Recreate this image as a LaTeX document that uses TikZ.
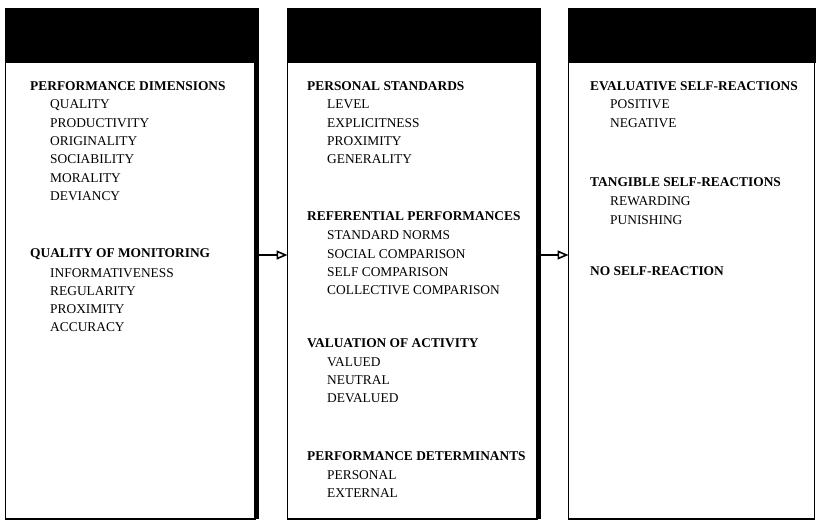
\documentclass[tikz,border=0pt]{standalone}
\usepackage{fontspec}
\setmainfont{Liberation Serif}
\usetikzlibrary{arrows.meta}
\begin{document}
\begin{tikzpicture}[x=1pt,y=-1pt,
  header/.style={fill=black, draw=black, line width=0.8pt, anchor=north west, inner sep=0pt, outer sep=0pt, minimum height=54pt},
  body/.style={draw=black, line width=1.1pt, anchor=north west, inner sep=0pt, outer sep=0pt, minimum height=457pt},
  shadowedge/.style={line width=4.8pt, line cap=butt},
  heading/.style={anchor=base west, inner sep=0pt, font=\fontsize{13.4}{16}\selectfont\bfseries},
  item/.style={anchor=base west, inner sep=0pt, font=\fontsize{13.4}{16}\selectfont},
  flow/.style={line width=2.4pt, -{Triangle[open, length=11pt, width=9pt, line width=1.6pt]}}
]
\useasboundingbox (0,0) rectangle (816,521);
% headers
\node[header, minimum width=253pt] (h1) at (5,8) {};
\node[header, minimum width=253pt] (h2) at (287,8) {};
\node[header, minimum width=249pt] (h3) at (568,8) {};
% bodies
\node[body, minimum width=250pt] (b1) at (5.5,62) {};
\node[body, minimum width=250pt] (b2) at (287.5,62) {};
\node[body, minimum width=246pt] (b3) at (568.5,62) {};
\draw[shadowedge] ([xshift=1.2pt]b1.north east) -- ([xshift=1.2pt]b1.south east);
\draw[shadowedge] ([xshift=1.2pt]b2.north east) -- ([xshift=1.2pt]b2.south east);
% connectors
\coordinate (ay) at (0,255);
\draw[flow] ([xshift=3.6pt]b1.east |- ay) -- (b2.west |- ay);
\draw[flow] ([xshift=3.6pt]b2.east |- ay) -- (b3.west |- ay);
% box 1 text
\node[heading] (t1a) at (30,90.5) {PERFORMANCE DIMENSIONS};
\node[item] (t1a1) at (50,109) {QUALITY};
\node[item] (t1a2) at (50,127.3) {PRODUCTIVITY};
\node[item] (t1a3) at (50,145.6) {ORIGINALITY};
\node[item] (t1a4) at (50,163.9) {SOCIABILITY};
\node[item] (t1a5) at (50,182.2) {MORALITY};
\node[item] (t1a6) at (50,200.5) {DEVIANCY};
\node[heading] (t1b) at (30,258) {QUALITY OF MONITORING};
\node[item] (t1b1) at (50,277) {INFORMATIVENESS};
\node[item] (t1b2) at (50,295.3) {REGULARITY};
\node[item] (t1b3) at (50,313.6) {PROXIMITY};
\node[item] (t1b4) at (50,331.9) {ACCURACY};
% box 2 text
\node[heading] (t2a) at (307,90.5) {PERSONAL STANDARDS};
\node[item] (t2a1) at (327,109) {LEVEL};
\node[item] (t2a2) at (327,127.3) {EXPLICITNESS};
\node[item] (t2a3) at (327,145.6) {PROXIMITY};
\node[item] (t2a4) at (327,163.9) {GENERALITY};
\node[heading] (t2b) at (307,221) {REFERENTIAL PERFORMANCES};
\node[item] (t2b1) at (327,240) {STANDARD NORMS};
\node[item] (t2b2) at (327,258.3) {SOCIAL COMPARISON};
\node[item] (t2b3) at (327,276.6) {SELF COMPARISON};
\node[item] (t2b4) at (327,294.9) {COLLECTIVE COMPARISON};
\node[heading] (t2c) at (307,347) {VALUATION OF ACTIVITY};
\node[item] (t2c1) at (327,366) {VALUED};
\node[item] (t2c2) at (327,384.3) {NEUTRAL};
\node[item] (t2c3) at (327,402.6) {DEVALUED};
\node[heading] (t2d) at (307,460) {PERFORMANCE DETERMINANTS};
\node[item] (t2d1) at (327,479) {PERSONAL};
\node[item] (t2d2) at (327,497.3) {EXTERNAL};
% box 3 text
\node[heading] (t3a) at (590,90.5) {EVALUATIVE SELF-REACTIONS};
\node[item] (t3a1) at (610,109) {POSITIVE};
\node[item] (t3a2) at (610,127.3) {NEGATIVE};
\node[heading] (t3b) at (590,187) {TANGIBLE SELF-REACTIONS};
\node[item] (t3b1) at (610,206) {REWARDING};
\node[item] (t3b2) at (610,224.3) {PUNISHING};
\node[heading] (t3c) at (590,276) {NO SELF-REACTION};
\end{tikzpicture}
\end{document}
